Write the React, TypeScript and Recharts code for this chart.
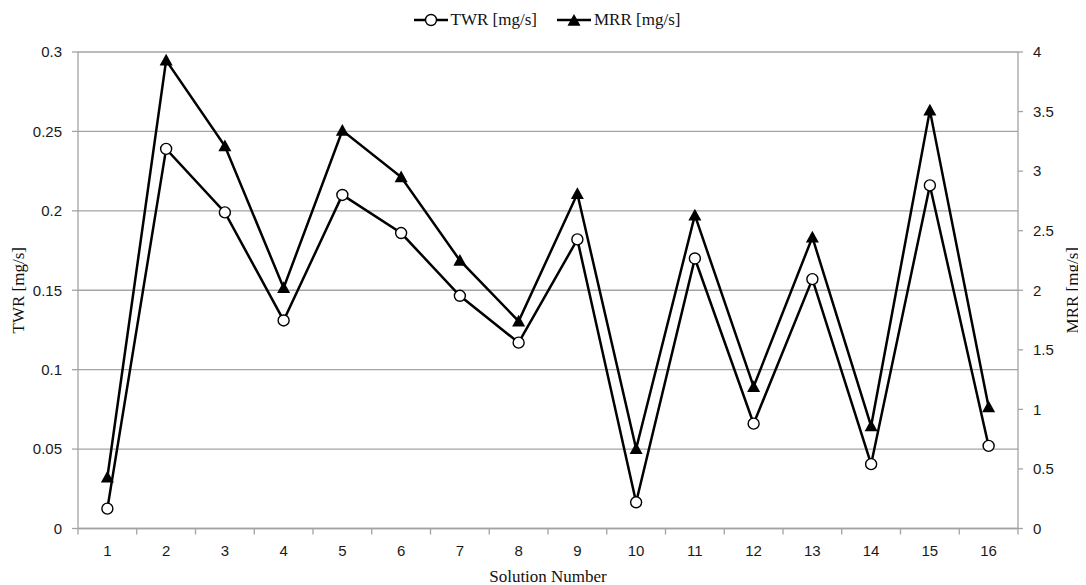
import { CartesianGrid, Legend, Line, LineChart, XAxis, YAxis } from "recharts";

const solutions = ["1", "2", "3", "4", "5", "6", "7", "8", "9", "10", "11", "12", "13", "14", "15", "16"];
const twr = [0.0125, 0.239, 0.199, 0.131, 0.21, 0.186, 0.1465, 0.117, 0.182, 0.0165, 0.17, 0.066, 0.157, 0.0405, 0.216, 0.052];
const mrr = [0.43, 3.93, 3.21, 2.02, 3.34, 2.95, 2.25, 1.74, 2.81, 0.67, 2.63, 1.19, 2.445, 0.86, 3.51, 1.02];
const twrTicks = [0, 0.05, 0.1, 0.15, 0.2, 0.25, 0.3];
const mrrTicks = [0, 0.5, 1, 1.5, 2, 2.5, 3, 3.5, 4];

const data = solutions.map((n, i) => ({ n, twr: twr[i], mrr: mrr[i] }));

const W = 1078;
const H = 577;
const LEFT_W = 70;
const RIGHT_W = 68;
const BAND = (W - LEFT_W - RIGHT_W) / solutions.length;
const GREY = "#a3a3a3";
const SERIF = "'Liberation Serif', 'Times New Roman', serif";
const SANS = "'Liberation Sans', Arial, sans-serif";

function XTick({ x, y, payload, index }: any) {
  return (
    <g>
      <line x1={x - BAND / 2} x2={x - BAND / 2} y1={y} y2={y + 6} stroke={GREY} strokeWidth={1.3} />
      {index === solutions.length - 1 && (
        <line x1={x + BAND / 2} x2={x + BAND / 2} y1={y} y2={y + 6} stroke={GREY} strokeWidth={1.3} />
      )}
      <text x={x} y={y + 27} textAnchor="middle" fontFamily={SANS} fontSize={15} fill="#1a1a1a">
        {payload.value}
      </text>
    </g>
  );
}

function Triangle({ cx, cy, size = 6.5 }: { cx: number; cy: number; size?: number }) {
  return (
    <path
      d={`M${cx},${cy - size} L${cx + size},${cy + size * 0.8} L${cx - size},${cy + size * 0.8} Z`}
      fill="#000"
    />
  );
}

function LegendIcon({ kind }: { kind: string }) {
  return (
    <svg width={34} height={16} style={{ marginRight: 3 }}>
      <line x1={0} x2={34} y1={8} y2={8} stroke="#000" strokeWidth={2.5} />
      {kind === "twr" ? (
        <circle cx={17} cy={8} r={5.5} fill="#fff" stroke="#000" strokeWidth={1.4} />
      ) : (
        <Triangle cx={17} cy={8.5} />
      )}
    </svg>
  );
}

function LegendContent() {
  const items = [
    { key: "twr", label: "TWR [mg/s]" },
    { key: "mrr", label: "MRR [mg/s]" },
  ];
  return (
    <div style={{ display: "flex", justifyContent: "center", height: 24, alignItems: "center" }}>
      {items.map((it) => (
        <div key={it.key} style={{ display: "flex", alignItems: "center", margin: "0 10px" }}>
          <LegendIcon kind={it.key} />
          <span style={{ fontFamily: SERIF, fontSize: 17, color: "#111" }}>{it.label}</span>
        </div>
      ))}
    </div>
  );
}

export default function App() {
  return (
    <LineChart width={W} height={H} data={data} margin={{ top: 20, right: 0, bottom: 0, left: 0 }}>
      <CartesianGrid yAxisId="left" vertical={false} stroke={GREY} strokeWidth={1.3} />
      <XAxis
        dataKey="n"
        height={56.5}
        padding={{ left: BAND / 2, right: BAND / 2 }}
        axisLine={{ stroke: GREY, strokeWidth: 1.3 }}
        tickLine={false}
        tickSize={0}
        tickMargin={0}
        interval={0}
        tick={<XTick />}
        label={{
          value: "Solution Number",
          position: "insideBottom",
          offset: 3,
          style: { fontFamily: SERIF, fontSize: 17, fill: "#111" },
        }}
      />
      <YAxis
        yAxisId="left"
        width={LEFT_W}
        domain={[0, 0.3]}
        ticks={twrTicks}
        interval={0}
        axisLine={{ stroke: GREY, strokeWidth: 1.3 }}
        tickLine={{ stroke: GREY, strokeWidth: 1.3 }}
        tickSize={6}
        tickMargin={10}
        tick={{ fontFamily: SANS, fontSize: 15, fill: "#1a1a1a" }}
        label={{
          content: ({ viewBox }: any) => (
            <text
              x={viewBox.x + 10}
              y={viewBox.y + viewBox.height / 2}
              transform={`rotate(-90, ${viewBox.x + 10}, ${viewBox.y + viewBox.height / 2})`}
              textAnchor="middle"
              dominantBaseline="central"
              fontFamily={SERIF}
              fontSize={17}
              fill="#111"
            >
              TWR [mg/s]
            </text>
          ),
        }}
      />
      <YAxis
        yAxisId="right"
        orientation="right"
        width={RIGHT_W}
        domain={[0, 4]}
        ticks={mrrTicks}
        interval={0}
        axisLine={{ stroke: GREY, strokeWidth: 1.3 }}
        tickLine={{ stroke: GREY, strokeWidth: 1.3 }}
        tickSize={5}
        tickMargin={10}
        tick={{ fontFamily: SANS, fontSize: 15, fill: "#1a1a1a" }}
        label={{
          content: ({ viewBox }: any) => (
            <text
              x={viewBox.x + 54}
              y={viewBox.y + viewBox.height / 2}
              transform={`rotate(-90, ${viewBox.x + 54}, ${viewBox.y + viewBox.height / 2})`}
              textAnchor="middle"
              dominantBaseline="central"
              fontFamily={SERIF}
              fontSize={17}
              fill="#111"
            >
              MRR [mg/s]
            </text>
          ),
        }}
      />
      <Legend verticalAlign="top" height={24} wrapperStyle={{ top: 0 }} content={<LegendContent />} />
      <Line
        yAxisId="left"
        dataKey="twr"
        name="TWR [mg/s]"
        stroke="#000"
        strokeWidth={2.5}
        isAnimationActive={false}
        dot={{ r: 5.5, fill: "#fff", stroke: "#000", strokeWidth: 1.4 }}
        activeDot={false}
      />
      <Line
        yAxisId="right"
        dataKey="mrr"
        name="MRR [mg/s]"
        stroke="#000"
        strokeWidth={2.5}
        isAnimationActive={false}
        dot={(p: any) => <Triangle key={`t${p.index}`} cx={p.cx} cy={p.cy} />}
        activeDot={false}
      />
    </LineChart>
  );
}
